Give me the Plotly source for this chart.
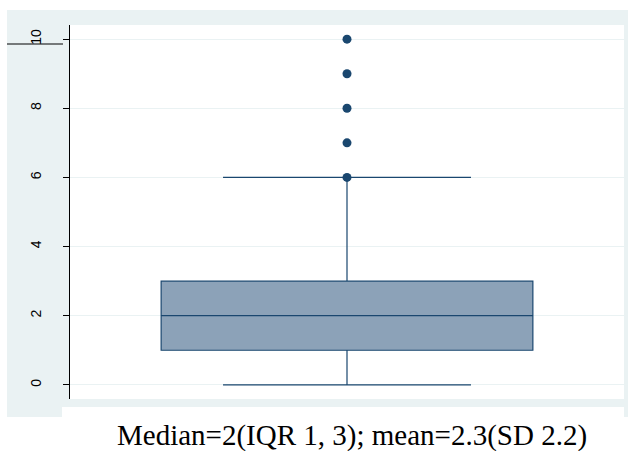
import plotly.graph_objects as go

# Data
y_ticks = [0, 2, 4, 6, 8, 10]
q1 = [1]
median = [2]
q3 = [3]
lower_fence = [0]
upper_fence = [6]
outliers = [6, 7, 8, 9, 10]
caption = "Median=2(IQR 1, 3); mean=2.3(SD 2.2)"

W, H = 631, 451
navy = "#1A476F"
bg = "#EAF2F3"
L, R, T, B = 70, 7, 25, 52
pw, ph = W - L - R, H - T - B


def fx(p):
    return (p - L) / pw


def fy(p):
    return (H - p - B) / ph


fig = go.Figure()
fig.add_trace(go.Box(
    x=[0], q1=q1, median=median, q3=q3,
    lowerfence=lower_fence, upperfence=upper_fence,
    width=0.671, whiskerwidth=0.667,
    fillcolor="#8CA2B8", line=dict(color=navy, width=1.2),
    boxpoints=False, showlegend=False, hoverinfo="skip",
))
fig.add_trace(go.Scatter(
    x=[0] * len(outliers), y=outliers, mode="markers",
    marker=dict(color=navy, size=9), showlegend=False, hoverinfo="skip",
))

shapes = [
    dict(type="rect", xref="paper", yref="paper", layer="below",
         x0=fx(7), x1=fx(628), y0=fy(417), y1=fy(10),
         fillcolor=bg, line=dict(width=0)),
    dict(type="rect", xref="paper", yref="paper", layer="below",
         x0=fx(62), x1=fx(624), y0=fy(451), y1=fy(407),
         fillcolor="white", line=dict(width=0)),
    dict(type="rect", xref="paper", yref="paper", layer="below",
         x0=0, x1=1, y0=0, y1=1,
         fillcolor="white", line=dict(width=0)),
    dict(type="line", xref="paper", yref="paper",
         x0=fx(7), x1=fx(63), y0=fy(44), y1=fy(44),
         line=dict(color="black", width=1)),
]

fig.update_layout(
    width=W, height=H,
    margin=dict(l=L, r=R, t=T, b=B),
    paper_bgcolor="white", plot_bgcolor="white",
    shapes=shapes,
    xaxis=dict(range=[-0.5, 0.5], showticklabels=False, showgrid=False,
               zeroline=False, ticks=""),
    yaxis=dict(range=[-0.41, 10.41], tickvals=y_ticks,
               ticktext=[str(v) for v in y_ticks], tickangle=-90,
               ticks="outside", ticklen=6, tickcolor="black",
               ticklabelstandoff=16,
               showline=True, linecolor="black", linewidth=1,
               showgrid=True, gridcolor=bg, gridwidth=1,
               zeroline=False,
               tickfont=dict(family="Liberation Sans, Arial", size=14, color="black")),
    annotations=[dict(
        text=caption, xref="paper", yref="paper",
        x=fx(352), y=fy(435), xanchor="center", yanchor="middle",
        showarrow=False,
        font=dict(family="Liberation Serif, Times New Roman", size=29, color="black"),
    )],
)

fig.write_html("out.html", config={"displayModeBar": False},
               post_script="document.body.style.margin='0';")
